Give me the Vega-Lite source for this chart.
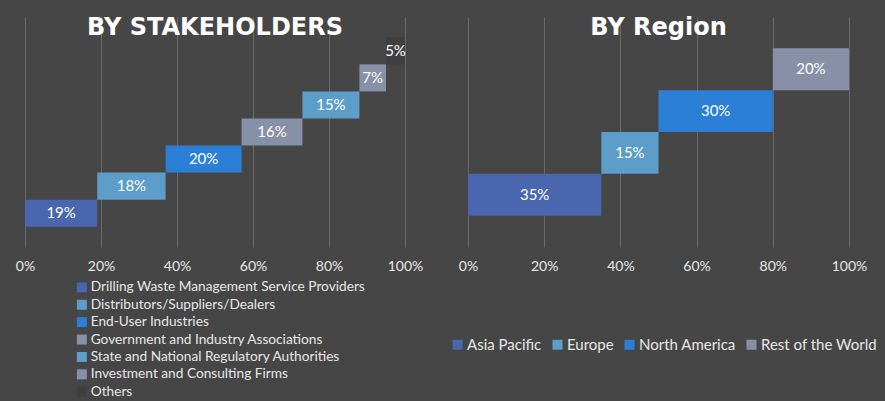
{
  "$schema": "https://vega.github.io/schema/vega-lite/v6.json",
  "background": "#464646",
  "padding": {"left": 15, "top": 16, "right": 10, "bottom": 8},
  "bounds": "flush",
  "spacing": 63,
  "config": {
    "view": {"stroke": null},
    "font": "Lato",
    "axis": {"labelFont": "Lato"},
    "title": {"font": "DejaVu Sans", "fontWeight": "bold", "fontSize": 24, "color": "#ffffff", "baseline": "alphabetic", "offset": -23, "anchor": "middle"}
  },
  "datasets": {
    "stake": [
      {"category": "Drilling Waste Management Service Providers", "start": 0, "end": 19, "label": "19%"},
      {"category": "Distributors/Suppliers/Dealers", "start": 19, "end": 37, "label": "18%"},
      {"category": "End-User Industries", "start": 37, "end": 57, "label": "20%"},
      {"category": "Government and Industry Associations", "start": 57, "end": 73, "label": "16%"},
      {"category": "State and National Regulatory Authorities", "start": 73, "end": 88, "label": "15%"},
      {"category": "Investment and Consulting Firms", "start": 88, "end": 95, "label": "7%"},
      {"category": "Others", "start": 95, "end": 100, "label": "5%"}
    ],
    "region": [
      {"category": "Asia Pacific", "start": 0, "end": 35, "label": "35%"},
      {"category": "Europe", "start": 35, "end": 50, "label": "15%"},
      {"category": "North America", "start": 50, "end": 80, "label": "30%"},
      {"category": "Rest of the World", "start": 80, "end": 100, "label": "20%"}
    ]
  },
  "hconcat": [
    {
      "width": 380,
      "height": 230,
      "title": {"text": "BY STAKEHOLDERS"},
      "data": {"name": "stake"},
      "encoding": {
        "y": {
          "field": "category", "type": "nominal", "axis": null,
          "sort": ["Others", "Investment and Consulting Firms", "State and National Regulatory Authorities", "Government and Industry Associations", "End-User Industries", "Distributors/Suppliers/Dealers", "Drilling Waste Management Service Providers"],
          "scale": {"paddingInner": 0, "paddingOuter": 0.75}
        }
      },
      "layer": [
        {
          "mark": {"type": "bar"},
          "encoding": {
            "x": {
              "field": "start", "type": "quantitative",
              "scale": {"domain": [0, 100], "nice": false},
              "axis": {"values": [0, 20, 40, 60, 80, 100], "labelExpr": "datum.value + '%'", "domain": false, "ticks": false, "grid": true, "gridColor": "#6a6a6a", "gridWidth": 1, "labelColor": "#e6e6e6", "labelFontSize": 14, "labelPadding": 12, "title": null, "labelFlush": false}
            },
            "x2": {"field": "end"},
            "color": {
              "field": "category", "type": "nominal",
              "sort": ["Drilling Waste Management Service Providers", "Distributors/Suppliers/Dealers", "End-User Industries", "Government and Industry Associations", "State and National Regulatory Authorities", "Investment and Consulting Firms", "Others"],
              "scale": {
                "domain": ["Drilling Waste Management Service Providers", "Distributors/Suppliers/Dealers", "End-User Industries", "Government and Industry Associations", "State and National Regulatory Authorities", "Investment and Consulting Firms", "Others"],
                "range": ["#4a66ae", "#5c9dc9", "#2b7fd7", "#8890a8", "#5c9dc9", "#8890a8", "#3f3f3f"]
              },
              "legend": {
                "title": null, "orient": "none", "legendX": 50, "legendY": 263.5, "direction": "vertical",
                "symbolType": "square", "symbolSize": 100, "symbolStrokeWidth": 0,
                "labelFontSize": 13.7, "labelColor": "#e6e6e6", "labelFont": "Lato", "labelOffset": 2, "rowPadding": 2.4, "padding": 0, "labelLimit": 400
              }
            }
          }
        },
        {
          "transform": [{"calculate": "(datum.start + datum.end) / 2", "as": "mid"}],
          "mark": {"type": "text", "color": "#ffffff", "fontSize": 15, "font": "Lato"},
          "encoding": {
            "x": {"field": "mid", "type": "quantitative"},
            "text": {"field": "label"}
          }
        }
      ]
    },
    {
      "width": 381,
      "height": 230,
      "title": {"text": "BY Region"},
      "data": {"name": "region"},
      "encoding": {
        "y": {
          "field": "category", "type": "nominal", "axis": null,
          "sort": ["Rest of the World", "North America", "Europe", "Asia Pacific"],
          "scale": {"paddingInner": 0, "paddingOuter": 0.75}
        }
      },
      "layer": [
        {
          "mark": {"type": "bar"},
          "encoding": {
            "x": {
              "field": "start", "type": "quantitative",
              "scale": {"domain": [0, 100], "nice": false},
              "axis": {"values": [0, 20, 40, 60, 80, 100], "labelExpr": "datum.value + '%'", "domain": false, "ticks": false, "grid": true, "gridColor": "#6a6a6a", "gridWidth": 1, "labelColor": "#e6e6e6", "labelFontSize": 14, "labelPadding": 12, "title": null, "labelFlush": false}
            },
            "x2": {"field": "end"},
            "color": {
              "field": "category", "type": "nominal",
              "scale": {
                "domain": ["Asia Pacific", "Europe", "North America", "Rest of the World"],
                "range": ["#4a66ae", "#5c9dc9", "#2b7fd7", "#8890a8"]
              },
              "legend": {
                "title": null, "orient": "none", "legendX": -18, "legendY": 320, "direction": "horizontal",
                "symbolType": "square", "symbolSize": 100, "symbolStrokeWidth": 0,
                "labelFontSize": 15, "labelColor": "#e6e6e6", "labelFont": "Lato", "labelOffset": 2, "columnPadding": 8, "padding": 0, "labelLimit": 300
              }
            }
          }
        },
        {
          "transform": [{"calculate": "(datum.start + datum.end) / 2", "as": "mid"}],
          "mark": {"type": "text", "color": "#ffffff", "fontSize": 15, "font": "Lato"},
          "encoding": {
            "x": {"field": "mid", "type": "quantitative"},
            "text": {"field": "label"}
          }
        }
      ]
    }
  ],
  "resolve": {"scale": {"color": "independent"}}
}
